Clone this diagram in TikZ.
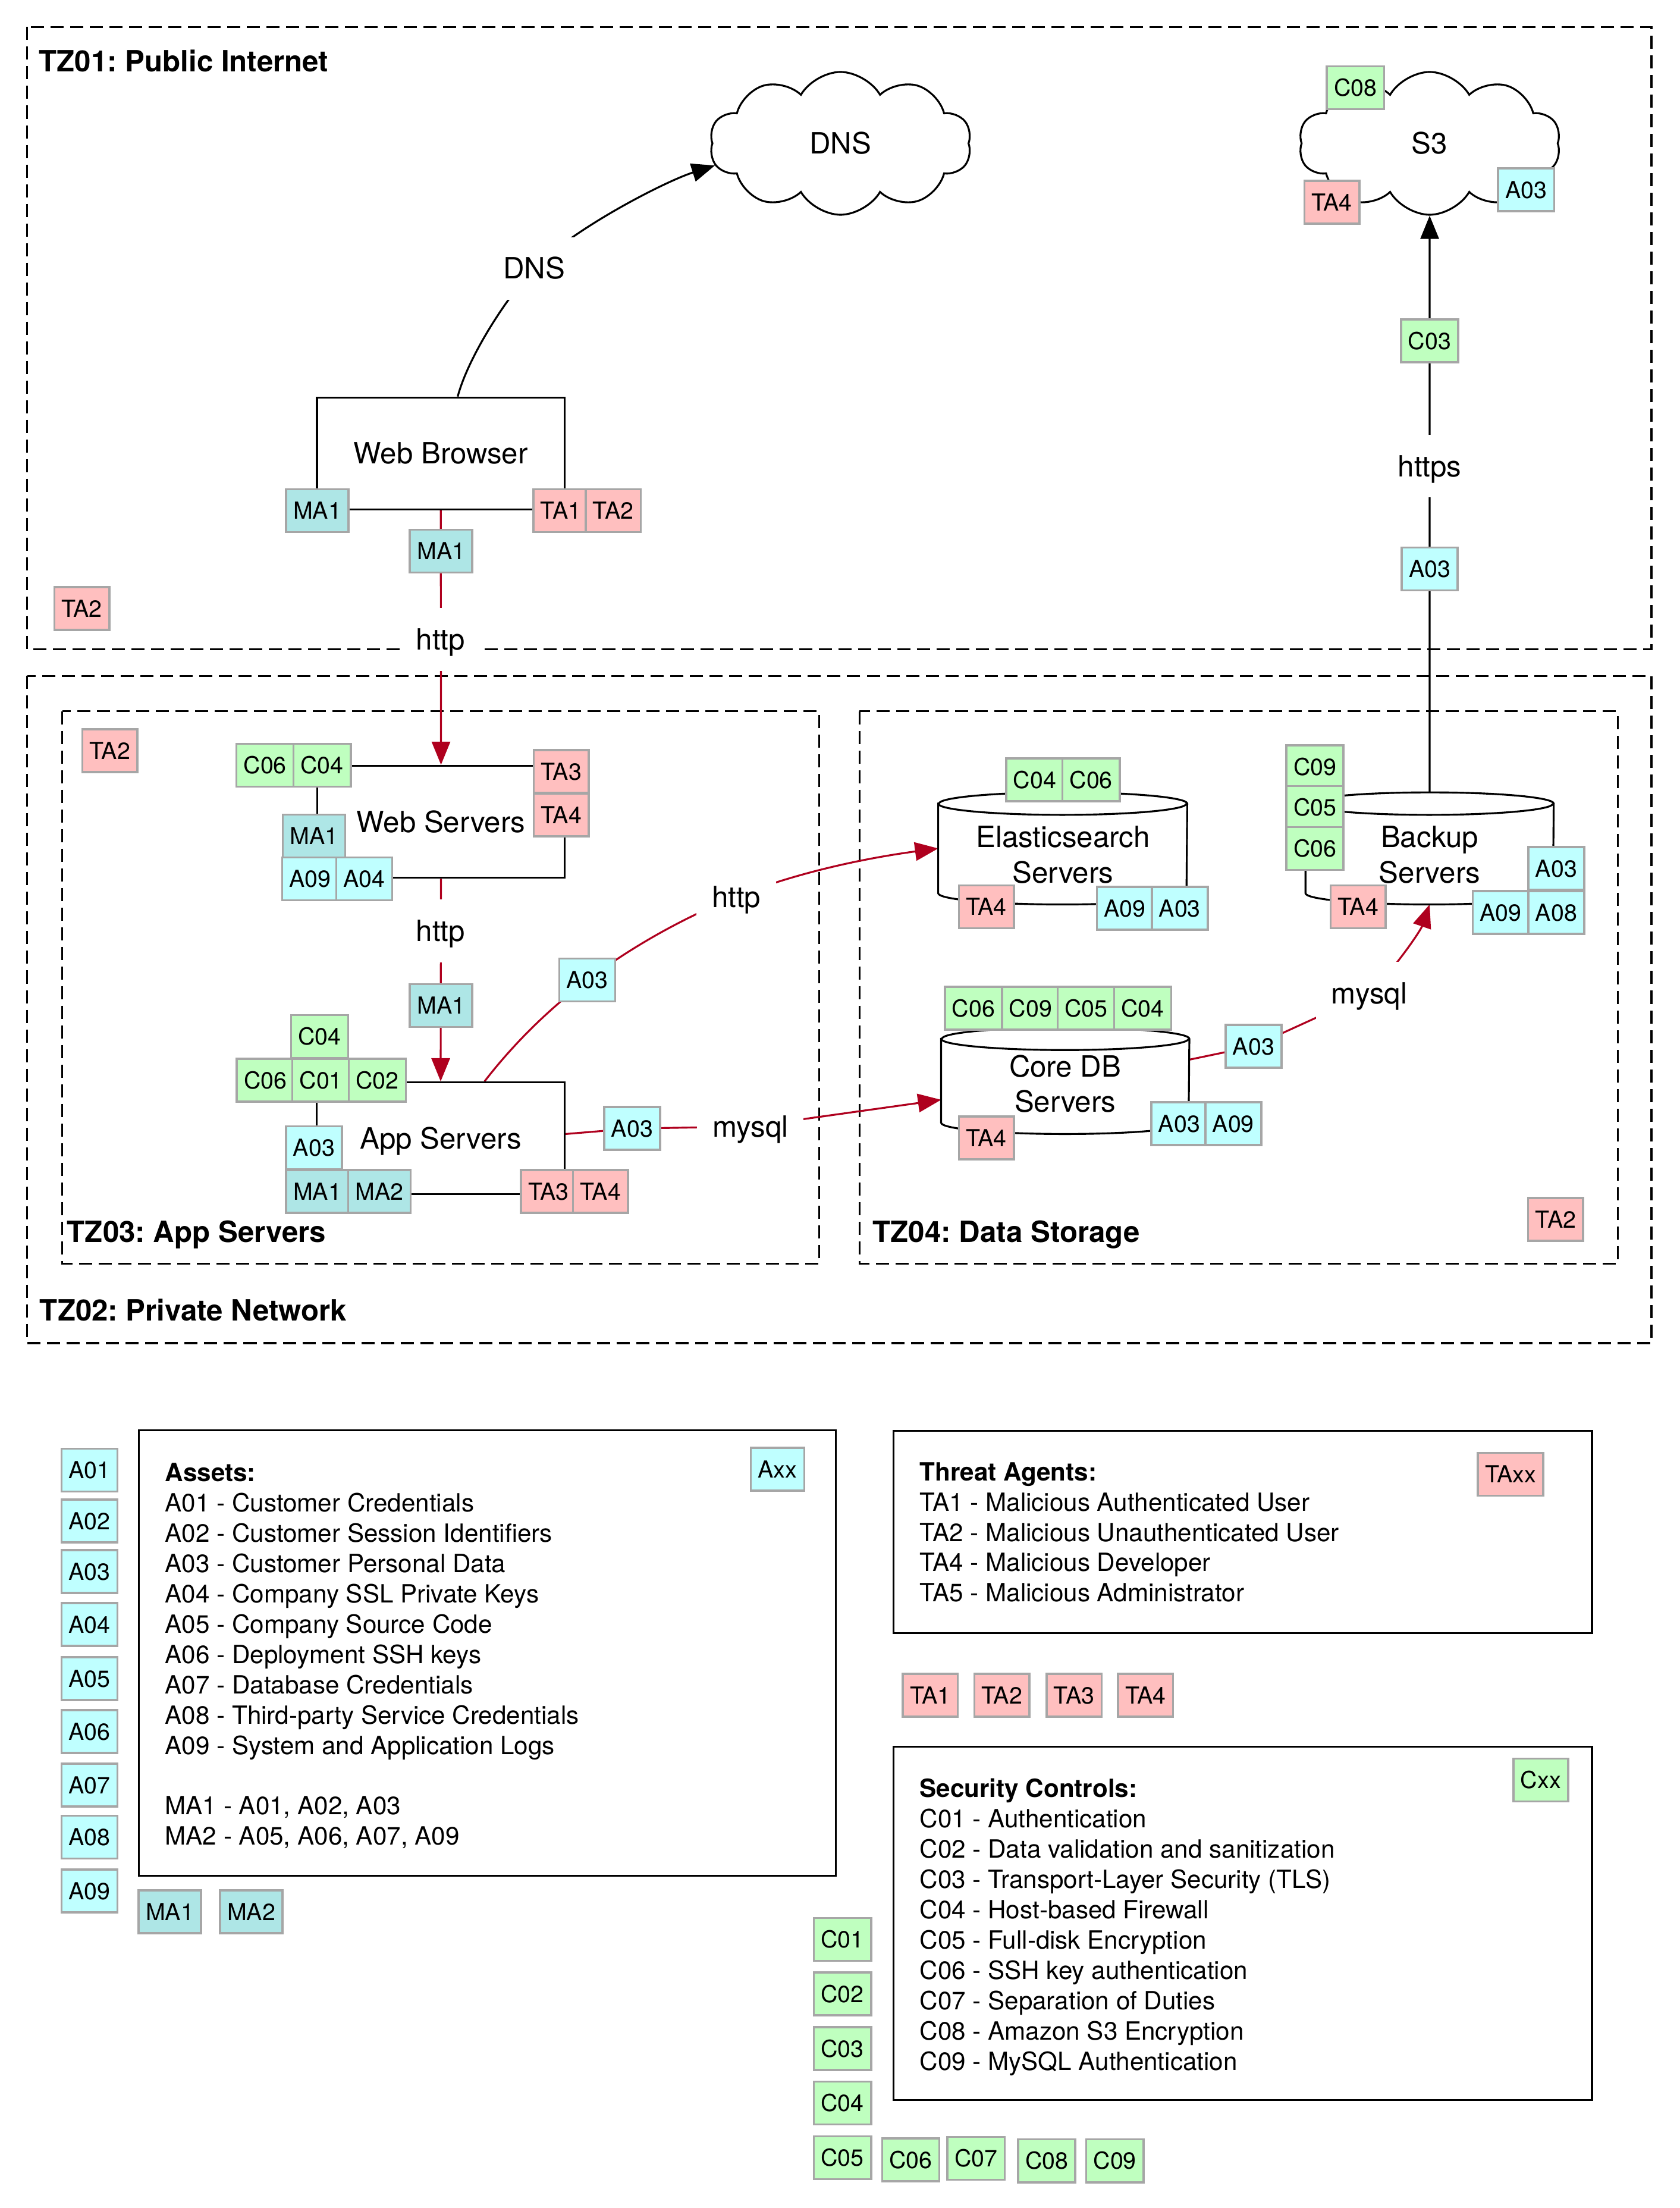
\documentclass[tikz,border=0pt]{standalone}
\usepackage{fontspec}
\setmainfont{TeX Gyre Heros}
\usetikzlibrary{arrows.meta,shapes.symbols,calc}
\pgfdeclarelayer{zones}
\pgfdeclarelayer{edges}
\pgfsetlayers{zones,edges,main}
\definecolor{tagAc}{RGB}{191,255,255}
\definecolor{tagMc}{RGB}{174,230,230}
\definecolor{tagTc}{RGB}{255,191,191}
\definecolor{tagCc}{RGB}{191,255,191}
\definecolor{tagBc}{RGB}{166,166,166}
\definecolor{flowred}{RGB}{175,0,30}
\frenchspacing
\newcommand{\drawcyl}[2]{%
  \draw[cylline,fill=white] ([yshift=-0.189cm]#1.north west) -- ([yshift=0.189cm]#1.south west)
    arc[start angle=180,end angle=360,x radius=#2,y radius=0.189cm]
    -- ([yshift=-0.189cm]#1.north east)
    arc[start angle=0,end angle=180,x radius=#2,y radius=0.189cm] -- cycle;
  \draw[cylline] ([yshift=-0.189cm]#1.north west) arc[start angle=180,end angle=360,x radius=#2,y radius=0.189cm];}
\begin{document}
\begin{tikzpicture}[x=0.023672cm,y=-0.023672cm,
  tagbase/.style={draw=tagBc,line width=1pt,font=\fontsize{11.2}{13}\selectfont,inner xsep=0.12cm,inner ysep=0pt,minimum height=0.72cm,text height=0.285cm,text depth=0pt},
  asset/.style={tagbase,fill=tagAc},
  masset/.style={tagbase,fill=tagMc},
  threat/.style={tagbase,fill=tagTc},
  ctrl/.style={tagbase,fill=tagCc},
  sysbox/.style={draw,line width=0.9pt,fill=white,font=\fontsize{14}{16.8}\selectfont,text height=0.354cm,text depth=0pt,inner sep=0pt},
  elabel/.style={fill=white,font=\fontsize{14}{16.8}\selectfont,text height=0.354cm,text depth=0pt,inner xsep=0.26cm,inner ysep=0.35cm},
  ctext/.style={font=\fontsize{14}{16.8}\selectfont,align=center,inner sep=0pt},
  cylnode/.style={inner sep=0pt},
  cylline/.style={draw,line width=0.9pt},
  cloudnode/.style={cloud,cloud puffs=10,cloud puff arc=120,cloud ignores aspect,draw,line width=0.9pt,fill=white,minimum width=4.4cm,minimum height=2.4cm,inner sep=0pt,font=\fontsize{14}{16.8}\selectfont},
  zone/.style={draw,line width=0.9pt,dash pattern=on 0.22cm off 0.11cm},
  zlabel/.style={font=\bfseries\fontsize{14}{16.8}\selectfont,anchor=base west,inner sep=0pt},
  legbox/.style={draw,line width=0.9pt},
  legtext/.style={font=\fontsize{12}{14.48}\selectfont,align=left,anchor=base west,inner sep=0pt},
  flow/.style={draw=flowred,line width=0.9pt,-{Triangle[length=0.39cm,width=0.31cm]}},
  bflow/.style={draw=black,line width=0.9pt,-{Triangle[length=0.39cm,width=0.31cm]}}]

\begin{pgfonlayer}{zones}
\fill[white] (0,0) rectangle (1193,1568);
\draw[zone] (19.3,19.2) rectangle (1173,461);
\draw[zone] (19.3,480) rectangle (1173,953.8);
\draw[zone] (44.2,505) rectangle (582,897.5);
\draw[zone] (610.5,505) rectangle (1149,897.5);
\end{pgfonlayer}
\path[use as bounding box] (0,0) rectangle (1193,1568);

% zone labels
\node[zlabel] (tz01) at (27.5,50.8) {TZ01: Public Internet};
\node[zlabel] (tz02) at (28,938) {TZ02: Private Network};
\node[zlabel] (tz03) at (47.4,882.2) {TZ03: App Servers};
\node[zlabel] (tz04) at (619.7,882.2) {TZ04: Data Storage};

% zone threat tags
\node[threat] (z1ta2) at (58.1,432.2) {TA2};
\node[threat] (z3ta2) at (78,533) {TA2};
\node[threat] (z4ta2) at (1105,866) {TA2};

% clouds
\node[cloudnode] (dns) at (597,101.8) {DNS};
\node[cloudnode] (s3) at (1015.5,101.8) {S3};
\node[ctrl] (s3c08) at (962.8,62.3) {C08};
\node[threat] (s3ta4) at (946,143.6) {TA4};
\node[asset] (s3a03) at (1084,134.8) {A03};

% web browser
\node[sysbox,minimum width=4.162cm,minimum height=1.880cm] (wb) at (313.1,322) {Web Browser};
\node[masset] (wbma1) at (225.4,362.6) {MA1};
\node[threat] (wbta1) at (398.4,362.6) {TA1};
\node[threat] (wbta2) at (435.6,362.6) {TA2};

% web servers
\node[sysbox,minimum width=4.159cm,minimum height=1.884cm] (ws) at (313.25,583.6) {Web Servers};
\node[ctrl] (wsc06) at (188.3,543.4) {C06};
\node[ctrl] (wsc04) at (228.8,543.4) {C04};
\node[threat] (wsta3) at (398.6,547.8) {TA3};
\node[threat] (wsta4) at (398.6,578.8) {TA4};
\node[masset] (wsma1) at (223,593.6) {MA1};
\node[asset] (wsa09) at (220.2,624.1) {A09};
\node[asset] (wsa04) at (258.8,624.1) {A04};

% app servers
\node[sysbox,minimum width=4.166cm,minimum height=1.880cm] (app) at (313,808.3) {App Servers};
\node[ctrl] (apc04) at (227,736) {C04};
\node[ctrl] (apc06) at (188.5,767) {C06};
\node[ctrl] (apc01) at (228,767) {C01};
\node[ctrl] (apc02) at (268,767) {C02};
\node[asset] (apa03) at (223,815) {A03};
\node[masset] (apma1) at (225.4,846) {MA1};
\node[masset] (apma2) at (269.5,846) {MA2};
\node[threat] (apta3) at (389.6,846) {TA3};
\node[threat] (apta4) at (426.5,846) {TA4};

% elasticsearch
\node[cylnode,minimum width=4.173cm,minimum height=1.870cm] (es) at (754.85,602.5) {};
\drawcyl{es}{2.087cm}
\node[ctext] (estxt) at (755,607) {Elasticsearch\\Servers};
\node[ctrl] (esc04) at (735,553.7) {C04};
\node[ctrl] (esc06) at (775,553.7) {C06};
\node[threat] (esta4) at (700.6,644) {TA4};
\node[asset] (esa09) at (799,645) {A09};
\node[asset] (esa03) at (838,645) {A03};

% backup
\node[cylnode,minimum width=4.159cm,minimum height=1.870cm] (bk) at (1015.45,602.5) {};
\drawcyl{bk}{2.080cm}
\node[ctext] (bktxt) at (1015.5,607) {Backup\\Servers};
\node[ctrl] (bkc09) at (934,544.5) {C09};
\node[ctrl] (bkc05) at (934,573.5) {C05};
\node[ctrl] (bkc06) at (934,602.5) {C06};
\node[threat] (bkta4) at (964.7,644) {TA4};
\node[asset] (bka03) at (1105.4,616.7) {A03};
\node[asset] (bka09) at (1066,648) {A09};
\node[asset] (bka08) at (1105.4,648) {A08};

% core db
\node[cylnode,minimum width=4.159cm,minimum height=1.775cm] (db) at (756.65,767.5) {};
\drawcyl{db}{2.080cm}
\node[ctext] (dbtxt) at (756.6,769.7) {Core DB\\Servers};
\node[ctrl] (dbc06) at (691.5,716) {C06};
\node[ctrl] (dbc09) at (732,716) {C09};
\node[ctrl] (dbc05) at (771.6,716) {C05};
\node[ctrl] (dbc04) at (811.7,716) {C04};
\node[threat] (dbta4) at (700.6,808) {TA4};
\node[asset] (dba03) at (837.6,798) {A03};
\node[asset] (dba09) at (876,798) {A09};

% edge labels and tags
\node[elabel] (e1l) at (379.4,190.6) {DNS};
\node[masset] (e0t) at (313.3,391.3) {MA1};
\node[elabel] (e0l) at (313,454) {http};
\node[elabel] (e2l) at (313,661) {http};
\node[masset] (e2t) at (313.3,714) {MA1};
\node[asset] (e3a) at (417.2,696) {A03};
\node[elabel] (e3l) at (523,636.7) {http};
\node[asset] (e4a) at (449,801.4) {A03};
\node[elabel] (e4l) at (533,800) {mysql};
\node[asset] (e5a) at (890.4,743) {A03};
\node[elabel] (e5l) at (972.6,705.5) {mysql};
\node[asset] (e6a) at (1015.5,404) {A03};
\node[elabel] (e6l) at (1015.5,331) {https};
\node[ctrl] (e6c) at (1015.5,242) {C03};

% connectors
\begin{pgfonlayer}{edges}
\draw[bflow] ($(wb.north)+(12,0)$) .. controls (333,252) and (361.9,208.4) .. (e1l.center)
   .. controls (407.4,162.2) and (472.4,128.8) .. (dns.190);
\draw[flow] (wb.south) -- (ws.north);
\draw[flow] (ws.south) -- (app.north);
\draw[flow] ($(app.north)+(31.2,0)$) .. controls (364.6,741.4) and (390,716.4) .. (e3a.center)
   .. controls (449.2,672) and (485.8,651.5) .. (e3l.center)
   .. controls (568.6,618.6) and (618.2,608.9) .. (es.west);
\draw[flow] ($(app.east)+(0,-3)$) -- (e4a.center) -- (e4l.center) -- ($(db.west)+(0,13.5)$);
\draw[flow] ($(db.east)+(0,-15)$) -- (e5a.center) -- (e5l.center)
   .. controls (990,689) and (1009,661) .. (bk.south);
\draw[bflow] (bk.north) -- (s3.south);
\end{pgfonlayer}

% legend: assets
\node[legbox,minimum width=11.718cm,minimum height=7.487cm] (assetsBox) at (346.1,1173.85) {};
\node[legtext] (assetsTxt) at (117,1310.2) {\textbf{Assets:}\\A01 - Customer Credentials\\A02 - Customer Session Identifiers\\A03 - Customer Personal Data\\A04 - Company SSL Private Keys\\A05 - Company Source Code\\A06 - Deployment SSH keys\\A07 - Database Credentials\\A08 - Third-party Service Credentials\\A09 - System and Application Logs\\[14.48pt]MA1 - A01, A02, A03\\MA2 - A05, A06, A07, A09};
\node[asset] (lgAxx) at (552.3,1043.3) {Axx};
\node[asset] (lgA01) at (63.5,1043.9) {A01};
\node[asset] (lgA02) at (63.5,1080) {A02};
\node[asset] (lgA03) at (63.5,1116) {A03};
\node[asset] (lgA04) at (63.5,1153.7) {A04};
\node[asset] (lgA05) at (63.5,1192) {A05};
\node[asset] (lgA06) at (63.5,1229.7) {A06};
\node[asset] (lgA07) at (63.5,1267.6) {A07};
\node[asset] (lgA08) at (63.5,1304.6) {A08};
\node[asset] (lgA09) at (63.5,1342.8) {A09};
\node[masset] (lgMA1) at (120.6,1357.7) {MA1};
\node[masset] (lgMA2) at (178.5,1357.7) {MA2};

% legend: threat agents
\node[legbox,minimum width=11.744cm,minimum height=3.402cm] (threatBox) at (882.65,1087.85) {};
\node[legtext] (threatTxt) at (653,1137.5) {\textbf{Threat Agents:}\\TA1 - Malicious Authenticated User\\TA2 - Malicious Unauthenticated User\\TA4 - Malicious Developer\\TA5 - Malicious Administrator};
\node[threat] (lgTAxx) at (1073,1047) {TAxx};
\node[threat] (lgTA1) at (660.8,1203.9) {TA1};
\node[threat] (lgTA2) at (711.7,1203.9) {TA2};
\node[threat] (lgTA3) at (762.9,1203.9) {TA3};
\node[threat] (lgTA4) at (813.7,1203.9) {TA4};

% legend: security controls
\node[legbox,minimum width=11.744cm,minimum height=5.939cm] (secBox) at (882.65,1365.85) {};
\node[legtext] (secTxt) at (653,1470) {\textbf{Security Controls:}\\C01 - Authentication\\C02 - Data validation and sanitization\\C03 - Transport-Layer Security (TLS)\\C04 - Host-based Firewall\\C05 - Full-disk Encryption\\C06 - SSH key authentication\\C07 - Separation of Duties\\C08 - Amazon S3 Encryption\\C09 - MySQL Authentication};
\node[ctrl] (lgCxx) at (1094.4,1264) {Cxx};
\node[ctrl] (lgC01) at (598.4,1377.2) {C01};
\node[ctrl] (lgC02) at (598.4,1416) {C02};
\node[ctrl] (lgC03) at (598.4,1454.7) {C03};
\node[ctrl] (lgC04) at (598.4,1493.5) {C04};
\node[ctrl] (lgC05) at (598.4,1532.3) {C05};
\node[ctrl] (lgC06) at (646.9,1533.8) {C06};
\node[ctrl] (lgC07) at (693.3,1532.7) {C07};
\node[ctrl] (lgC08) at (743.5,1534.5) {C08};
\node[ctrl] (lgC09) at (791.9,1534.5) {C09};
\end{tikzpicture}
\end{document}
